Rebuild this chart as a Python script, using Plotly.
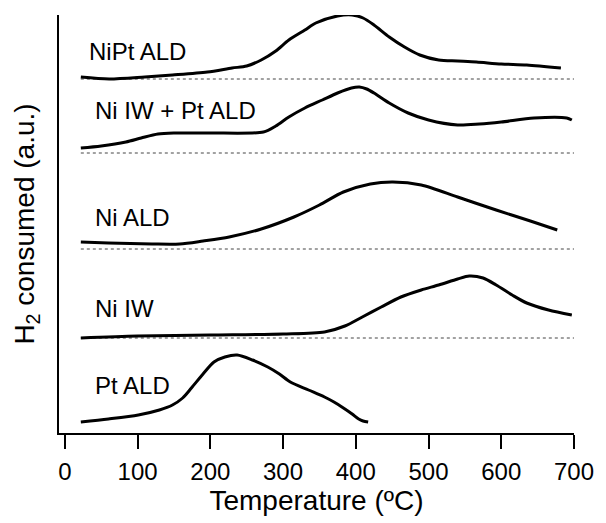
import plotly.graph_objects as go

# Temperature (ºC) and H2 signal (a.u., above each baseline)
nipt_t = [22, 61, 110, 148, 196, 230, 250, 270, 290, 308, 330, 345, 375, 395, 410, 425, 446, 467, 488, 514, 540, 566, 600, 635, 682]
nipt_v = [0.2, 0.0, 0.2, 0.4, 0.7, 1.1, 1.3, 1.9, 2.8, 3.9, 4.9, 5.6, 6.3, 6.4, 6.1, 5.4, 4.2, 3.2, 2.4, 1.9, 1.8, 1.7, 1.5, 1.4, 1.1]

niiwpt_t = [22, 50, 84, 105, 128, 150, 200, 273, 290, 308, 330, 354, 375, 394, 405, 415, 425, 446, 472, 500, 540, 570, 600, 645, 690, 697]
niiwpt_v = [0.5, 0.7, 1.1, 1.5, 1.9, 2.0, 2.0, 2.1, 2.7, 3.6, 4.5, 5.3, 6.0, 6.5, 6.6, 6.4, 6.0, 5.0, 4.0, 3.3, 2.8, 2.9, 3.1, 3.5, 3.5, 3.3]

niald_t = [22, 60, 120, 158, 190, 226, 270, 315, 350, 383, 420, 451, 490, 540, 593, 640, 677]
niald_v = [0.7, 0.6, 0.5, 0.5, 0.8, 1.2, 2.0, 3.2, 4.4, 5.7, 6.5, 6.7, 6.4, 5.2, 3.9, 2.8, 1.9]

niiw_t = [22, 100, 200, 300, 357, 385, 409, 435, 462, 490, 514, 540, 556, 575, 593, 615, 635, 665, 697]
niiw_v = [0.0, 0.2, 0.3, 0.4, 0.6, 1.2, 2.1, 3.1, 4.1, 4.8, 5.3, 5.9, 6.2, 6.0, 5.3, 4.3, 3.5, 2.8, 2.3]

ptald_t = [22, 60, 101, 130, 148, 162, 174, 190, 205, 220, 237, 258, 279, 295, 310, 335, 357, 370, 383, 395, 404, 410, 417]
ptald_v = [0.2, 0.5, 0.9, 1.4, 1.9, 2.6, 3.6, 5.0, 6.2, 6.7, 6.9, 6.4, 5.7, 5.0, 4.2, 3.4, 2.7, 2.2, 1.6, 1.0, 0.5, 0.3, 0.2]

names = ["NiPt ALD", "Ni IW + Pt ALD", "Ni ALD", "Ni IW", "Pt ALD"]
offsets = [35.4, 28.0, 18.4, 9.5, 0.9]
show_baseline = [True, True, True, True, False]
label_t = [30, 39, 39, 39, 39]
label_y = [38.2, 32.3, 21.6, 12.5, 4.8]

baseline_range = [22, 700]
x_ticks = [0, 100, 200, 300, 400, 500, 600, 700]

series = [(nipt_t, nipt_v), (niiwpt_t, niiwpt_v), (niald_t, niald_v), (niiw_t, niiw_v), (ptald_t, ptald_v)]

fig = go.Figure()
for (t, v), name, off, sb in zip(series, names, offsets, show_baseline):
    if sb:
        fig.add_trace(go.Scatter(x=baseline_range, y=[off, off], mode="lines",
                                 line=dict(color="#444444", width=1, dash="dot"),
                                 showlegend=False, hoverinfo="skip"))
    fig.add_trace(go.Scatter(x=t, y=[off + val for val in v], mode="lines", name=name,
                             line=dict(color="black", width=3, shape="spline", smoothing=0.8),
                             showlegend=False))

for name, lt, ly in zip(names, label_t, label_y):
    fig.add_annotation(x=lt, y=ly, text=name, showarrow=False, xanchor="left", yanchor="middle",
                       font=dict(size=24, color="black", family="Liberation Sans, Arial"))

fig.update_layout(
    width=606, height=523,
    margin=dict(l=59, r=23, t=15, b=90),
    paper_bgcolor="white", plot_bgcolor="white",
    font=dict(family="Liberation Sans, Arial", color="black"),
    xaxis=dict(range=[-8, 700], tickvals=x_ticks, ticks="outside", ticklen=14, tickwidth=1.5,
               tickcolor="black", showline=True, linecolor="black", linewidth=2,
               showgrid=False, zeroline=False, tickfont=dict(size=24), ticklabelstandoff=2,
               title=dict(text="Temperature (ºC)", font=dict(size=28), standoff=4)),
    yaxis=dict(range=[0, 41.8], showticklabels=False, ticks="", showline=True,
               linecolor="black", linewidth=2, showgrid=False, zeroline=False,
               title=dict(text="H<sub>2</sub> consumed (a.u.)", font=dict(size=28), standoff=14)),
)

fig.write_html("out.html", config={"displayModeBar": False},
               post_script="document.body.style.margin='0px';")
